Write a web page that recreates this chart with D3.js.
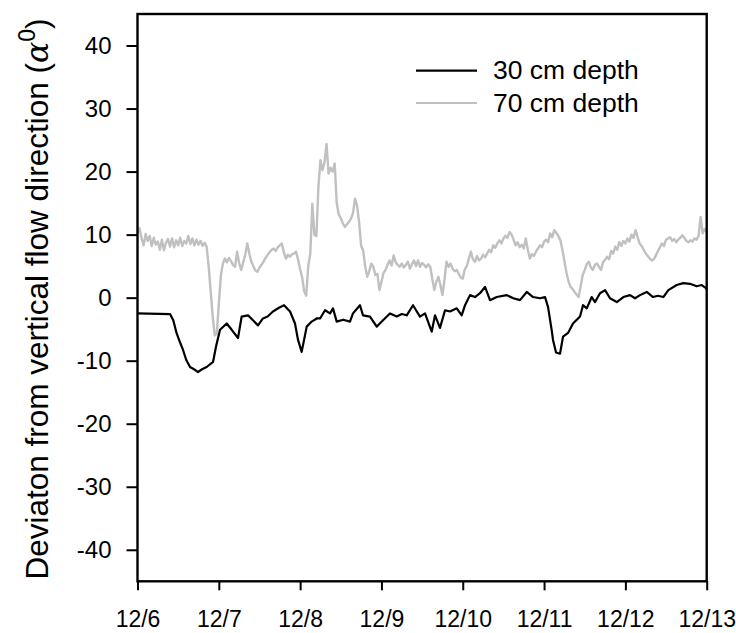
<!DOCTYPE html>
<html>
<head>
<meta charset="utf-8">
<script src="https://cdn.jsdelivr.net/npm/d3@7"></script>
<style>
  html, body { margin: 0; padding: 0; background: #fff; }
  svg { display: block; font-family: "Liberation Sans", Arial, sans-serif; }
</style>
</head>
<body>
<svg id="chart" width="736" height="633"></svg>
<script>
// Day labels along the time axis (days since 12/6 00:00)
const dayLabels = ["12/6", "12/7", "12/8", "12/9", "12/10", "12/11", "12/12", "12/13"];
const yTicks = [-40, -30, -20, -10, 0, 10, 20, 30, 40];

// 30 cm depth: time (days since 12/6) and deviation (degrees)
const t30 = [0, 0.40, 0.44, 0.48, 0.52, 0.56, 0.60, 0.646, 0.70, 0.744, 0.80, 0.851, 0.929, 0.965, 1.015, 1.097, 1.159, 1.236,
  1.281, 1.359, 1.42, 1.482, 1.543, 1.60, 1.666, 1.74, 1.802, 1.876, 1.937, 1.974, 2.019, 2.081, 2.142, 2.204,
  2.245, 2.306, 2.368, 2.404, 2.450, 2.53, 2.613, 2.650, 2.736, 2.773, 2.859, 2.942, 3.019, 3.105, 3.188,
  3.25, 3.311, 3.388, 3.474, 3.536, 3.618, 3.659, 3.720, 3.782, 3.843, 3.926, 3.987, 4.028, 4.089, 4.151,
  4.212, 4.274, 4.335, 4.418, 4.541, 4.622, 4.704, 4.787, 4.864, 4.950, 5.012, 5.049, 5.094, 5.110, 5.147,
  5.196, 5.233, 5.295, 5.356, 5.442, 5.479, 5.525, 5.586, 5.627, 5.688, 5.750, 5.811, 5.894, 5.975, 6.057,
  6.119, 6.180, 6.262, 6.340, 6.40, 6.467, 6.528, 6.631, 6.713, 6.795, 6.877, 6.939, 6.992, 7.0];
const v30 = [-2.5, -2.6, -3.6, -5.6, -7.0, -8.3, -9.9, -11.0, -11.4, -11.8, -11.3, -11.0, -10.2, -7.8, -5.1, -4.1, -5.1, -6.4,
  -3.0, -2.8, -3.6, -4.4, -3.3, -3.0, -2.2, -1.6, -1.2, -2.2, -4.1, -6.7, -8.6, -4.6, -3.8, -3.3,
  -3.3, -2.0, -2.5, -1.7, -3.8, -3.5, -3.8, -2.5, -1.2, -2.8, -3.0, -4.6, -3.6, -2.5, -3.0,
  -2.6, -2.8, -1.2, -3.0, -2.5, -5.4, -2.8, -4.8, -2.0, -2.2, -1.7, -2.8, -1.2, 0.4, 0.1,
  0.7, 1.7, -0.4, 0.1, 0.4, -0.1, -0.4, 0.9, 0.1, -0.1, 0.1, -1.5, -5.2, -6.7, -8.7,
  -8.9, -6.2, -5.6, -4.1, -3.0, -1.2, -1.7, 0.1, -0.7, 0.7, 1.2, -0.1, -0.7, 0.1, 0.4,
  -0.1, 0.4, 0.9, 0.1, 0.3, 0.1, 1.2, 2.0, 2.3, 2.2, 1.8, 2.0, 1.5, 1.3];

// 70 cm depth: readings every 0.025 day (36 min) starting 12/6 00:00, deviation in degrees
const step70 = 0.025;
const v70 = [
  10.2, 11.0, 9.4, 8.3, 10.1, 9.0, 9.8, 8.2, 9.5, 8.4, 8.9, 7.6, 9.2, 7.5, 8.7, 9.3, 8.1, 9.4, 8.0, 9.1,
  8.3, 9.5, 8.2, 9.0, 8.6, 9.8, 8.5, 9.4, 8.3, 9.2, 8.4, 9.0, 8.2, 8.7, 8.1,
  5.0, 1.0, -3.0, -6.0, -5.7,
  -1.0, 3.5, 5.4, 6.2, 5.6, 6.3, 5.8, 5.2, 4.9, 7.3,
  5.5, 4.4, 5.6, 6.8, 8.6, 7.0, 5.7, 5.0, 4.3, 4.1,
  4.8, 5.2, 5.7, 6.3, 6.8, 7.2, 7.6, 7.8, 7.4, 8.0,
  8.3, 8.6, 7.2, 6.2, 6.8, 6.5, 6.9, 7.0, 7.3, 6.0,
  4.5, 3.2, 1.0, 0.3, 5.0,
  7.0, 14.9, 10.0, 9.8, 17.6, 21.8, 20.2, 21.5, 24.4, 19.7,
  20.6, 20.0, 21.3, 15.0, 13.2, 12.6, 11.8, 11.2, 11.6, 12.0,
  12.5, 13.4, 15.7, 14.6, 12.0, 8.2,
  7.5, 5.0, 3.3, 4.2, 5.4, 4.9, 3.6, 3.8, 1.2, 2.5,
  3.9, 4.4, 5.2, 5.9, 5.1, 6.7, 5.6, 5.2, 4.9, 5.4,
  4.8, 5.2, 5.7, 4.6, 5.3, 5.9, 5.0, 5.9, 4.9, 5.5,
  5.2, 4.8, 5.3, 4.9, 3.0, 1.2, 2.5, 3.3, 2.0, 0.4,
  2.8, 5.7, 4.9, 5.4, 4.6, 4.2, 4.4, 3.8, 3.2, 3.0,
  4.5, 5.0, 6.2, 7.3, 6.1, 5.7, 6.6, 5.9, 6.2, 6.8,
  6.4, 7.0, 7.6, 7.2, 8.3, 7.9, 8.6, 9.1, 8.6, 9.4,
  9.8, 9.5, 10.4, 10.0, 9.2, 8.3, 8.8, 8.0, 8.4, 7.8,
  9.4, 7.6, 6.2, 6.9, 6.6, 7.3, 7.8, 8.3, 8.0, 8.9,
  9.2, 8.8, 10.2, 9.6, 10.7, 10.3, 9.8, 9.1, 7.6, 5.8,
  4.0, 2.6, 1.7, 1.4, 0.9, 0.5, 0.1, 1.8, 3.6, 4.4,
  5.3, 5.7, 4.8, 4.4, 5.2, 5.4, 4.9, 4.4, 5.6, 6.0,
  6.5, 6.1, 7.4, 7.0, 8.1, 7.6, 8.8, 8.2, 9.0, 8.6,
  9.4, 8.9, 10.0, 9.5, 10.7, 9.6, 8.6, 8.2, 7.6, 7.0,
  6.6, 6.2, 5.9, 6.1, 6.7, 7.4, 8.0, 8.6, 8.2, 9.2,
  9.4, 9.6, 9.0, 9.3, 8.8, 9.2, 9.5, 9.9, 9.5, 9.0,
  8.8, 9.1, 8.9, 9.4, 9.2, 9.8, 12.8, 10.2, 10.9, 10.4];
const t70 = d3.range(v70.length).map(i => +(i * step70).toFixed(3));

const seriesNames = ["30 cm depth", "70 cm depth"];
const seriesColors = ["#000000", "#c0c0c0"];

const svg = d3.select("#chart");
const plotLeft = 137.5, plotRight = 706.7, plotTop = 14, plotBottom = 581.3;

const x = d3.scaleLinear().domain([0, 7]).range([plotLeft, plotRight]);
const y = d3.scaleLinear().domain([-45, 45]).range([plotBottom, plotTop]);

// Series lines
const line = d3.line().x(d => x(d[0])).y(d => y(d[1]));
const series = [d3.zip(t30, v30), d3.zip(t70, v70)];
// grey series first so the black one sits on top
[1, 0].forEach(i => {
  svg.append("path")
    .datum(series[i])
    .attr("fill", "none")
    .attr("stroke", seriesColors[i])
    .attr("stroke-width", i === 0 ? 2.2 : 2.4)
    .attr("stroke-linejoin", "round")
    .attr("d", line);
});

// Frame
svg.append("rect")
  .attr("x", plotLeft).attr("y", plotTop)
  .attr("width", plotRight - plotLeft).attr("height", plotBottom - plotTop)
  .attr("fill", "none").attr("stroke", "#000").attr("stroke-width", 2.4);

// Y axis (plain hyphen for negatives)
const yAxis = svg.append("g")
  .attr("transform", `translate(${plotLeft},0)`)
  .call(d3.axisLeft(y).tickValues(yTicks).tickFormat(d => String(d)).tickSize(11).tickPadding(15));
// X axis
const xAxis = svg.append("g")
  .attr("transform", `translate(0,${plotBottom})`)
  .call(d3.axisBottom(x).tickValues(d3.range(8)).tickFormat(i => dayLabels[i]).tickSize(9).tickPadding(20));

[yAxis, xAxis].forEach(g => {
  g.select(".domain").remove();
  g.selectAll(".tick line").attr("stroke", "#000").attr("stroke-width", 2);
  g.selectAll(".tick text")
    .attr("fill", "#000")
    .style("font-family", "'Liberation Sans', Arial, sans-serif");
});
yAxis.selectAll(".tick text").style("font-size", "24px");
xAxis.selectAll(".tick text").style("font-size", "23px");

// Y axis title
const title = svg.append("text")
  .attr("transform", `translate(48,299) rotate(-90)`)
  .attr("text-anchor", "middle")
  .style("font-size", "31.5px")
  .attr("fill", "#000");
title.append("tspan").text("Deviaton from vertical flow direction (");
title.append("tspan").style("font-family", "'DejaVu Serif', serif").style("font-style", "italic").text("\u03b1");
title.append("tspan").attr("dy", -13).style("font-size", "23px").text("0");
title.append("tspan").attr("dy", 13).text(")");

// Legend
const legend = svg.append("g");
seriesNames.forEach((name, i) => {
  const ly = 70.7 + i * 32.3;
  legend.append("line")
    .attr("x1", 416).attr("x2", 477).attr("y1", ly).attr("y2", ly)
    .attr("stroke", seriesColors[i]).attr("stroke-width", 2.2);
  legend.append("text")
    .attr("x", 493).attr("y", ly + 8.5)
    .style("font-size", "26.5px")
    .attr("fill", "#000")
    .text(name);
});
</script>
</body>
</html>
